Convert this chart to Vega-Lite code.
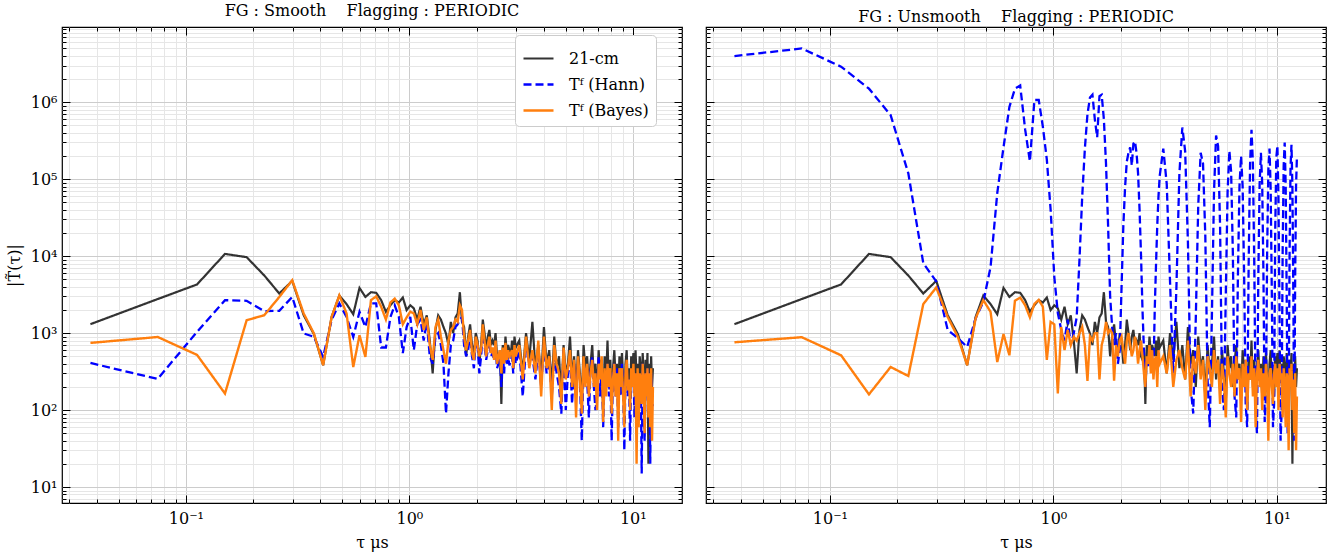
{
"$schema": "https://vega.github.io/schema/vega-lite/v6.json",
"background": "white",
"padding": {"left": 5, "right": 5, "top": 2, "bottom": 5},
"datasets": {"tab": [
{"t":0.0374,"a":1306,"b":409,"c":746,"d":3980000,"e":760},
{"t":0.0748,"a":2770,"b":254,"c":890,"d":5000000,"e":885},
{"t":0.1122,"a":4290,"b":1040,"c":521,"d":2900000,"e":515},
{"t":0.1496,"a":10700,"b":2680,"c":164,"d":1500000,"e":160},
{"t":0.187,"a":9700,"b":2630,"c":1470,"d":680000,"e":363},
{"t":0.2244,"a":5600,"b":1930,"c":1710,"d":119000,"e":277},
{"t":0.2618,"a":3270,"b":1950,"c":2950,"d":8100,"e":2380},
{"t":0.2992,"a":4770,"b":2950,"c":4870,"d":4700,"e":3920},
{"t":0.3366,"a":1710,"b":990,"c":1800,"d":1100,"e":1620},
{"t":0.374,"a":968,"b":895,"c":990,"d":860,"e":890},
{"t":0.4114,"a":383,"b":490,"c":383,"d":660,"e":383},
{"t":0.4488,"a":1620,"b":1480,"c":1620,"d":1550,"e":1550},
{"t":0.4862,"a":3080,"b":2430,"c":3100,"d":2560,"e":2680},
{"t":0.5236,"a":2380,"b":1620,"c":1800,"d":7200,"e":1890},
{"t":0.561,"a":1760,"b":895,"c":363,"d":66000,"e":420},
{"t":0.5984,"a":3870,"b":1890,"c":935,"d":260000,"e":970},
{"t":0.6358,"a":2950,"b":1200,"c":490,"d":870000,"e":515},
{"t":0.6732,"a":3400,"b":2430,"c":2680,"d":1500000,"e":2630},
{"t":0.7106,"a":3340,"b":2430,"c":3000,"d":1650000,"e":2900},
{"t":0.748,"a":2680,"b":650,"c":2200,"d":440000,"e":2300},
{"t":0.7854,"a":1890,"b":650,"c":1500,"d":170000,"e":1600},
{"t":0.8228,"a":2300,"b":1620,"c":2500,"d":1070000,"e":2400},
{"t":0.8602,"a":2680,"b":2300,"c":2800,"d":1070000,"e":2700},
{"t":0.8976,"a":2500,"b":1620,"c":2300,"d":480000,"e":2200},
{"t":0.935,"a":2900,"b":550,"c":1300,"d":180000,"e":450},
{"t":0.9724,"a":1990,"b":1200,"c":1600,"d":40000,"e":1400},
{"t":1.0098,"a":2300,"b":1620,"c":1900,"d":5400,"e":1300},
{"t":1.0472,"a":2100,"b":600,"c":1800,"d":1820,"e":165},
{"t":1.0846,"a":1500,"b":1300,"c":1300,"d":1100,"e":1200},
{"t":1.122,"a":2200,"b":1500,"c":2000,"d":800,"e":600},
{"t":1.1594,"a":1300,"b":800,"c":1100,"d":1500,"e":1100},
{"t":1.1968,"a":1700,"b":1400,"c":1600,"d":700,"e":700},
{"t":1.2342,"a":800,"b":500,"c":700,"d":1000,"e":900},
{"t":1.2716,"a":300,"b":400,"c":450,"d":1600,"e":800},
{"t":1.309,"a":1100,"b":900,"c":1200,"d":9000,"e":1000},
{"t":1.3464,"a":1700,"b":1000,"c":1500,"d":60000,"e":1200},
{"t":1.3838,"a":1500,"b":700,"c":900,"d":250000,"e":700},
{"t":1.4212,"a":1200,"b":400,"c":600,"d":700000,"e":240},
{"t":1.4586,"a":990,"b":90,"c":400,"d":1150000,"e":900},
{"t":1.496,"a":700,"b":300,"c":800,"d":1250000,"e":800},
{"t":1.5334,"a":1400,"b":700,"c":1100,"d":600000,"e":1000},
{"t":1.5708,"a":1000,"b":800,"c":1200,"d":350000,"e":1000},
{"t":1.6082,"a":1600,"b":1200,"c":1500,"d":1200000,"e":250},
{"t":1.6456,"a":1800,"b":1300,"c":1400,"d":1250000,"e":700},
{"t":1.683,"a":3400,"b":1500,"c":2300,"d":600000,"e":900},
{"t":1.7204,"a":1400,"b":1600,"c":2000,"d":160000,"e":1400},
{"t":1.7578,"a":1200,"b":700,"c":900,"d":25000,"e":1000},
{"t":1.7952,"a":500,"b":500,"c":600,"d":3000,"e":1100},
{"t":1.8326,"a":900,"b":600,"c":800,"d":1200,"e":1000},
{"t":1.87,"a":1300,"b":1000,"c":1100,"d":700,"e":240},
{"t":1.9074,"a":700,"b":500,"c":550,"d":1000,"e":700},
{"t":1.9448,"a":550,"b":350,"c":450,"d":400,"e":500},
{"t":1.9822,"a":1000,"b":800,"c":900,"d":600,"e":800},
{"t":2.0196,"a":800,"b":700,"c":700,"d":4000,"e":900},
{"t":2.057,"a":400,"b":300,"c":500,"d":25000,"e":600},
{"t":2.0944,"a":700,"b":500,"c":600,"d":80000,"e":400},
{"t":2.1318,"a":1500,"b":1000,"c":1300,"d":170000,"e":800},
{"t":2.1692,"a":1000,"b":700,"c":800,"d":220000,"e":1000},
{"t":2.2066,"a":600,"b":450,"c":500,"d":260000,"e":700},
{"t":2.244,"a":900,"b":600,"c":700,"d":150000,"e":500},
{"t":2.2814,"a":1100,"b":800,"c":900,"d":290000,"e":600},
{"t":2.3188,"a":700,"b":500,"c":550,"d":310000,"e":900},
{"t":2.3562,"a":800,"b":550,"c":650,"d":220000,"e":700},
{"t":2.3936,"a":700,"b":450,"c":450,"d":120000,"e":400},
{"t":2.431,"a":1000,"b":700,"c":800,"d":40000,"e":600},
{"t":2.4684,"a":500,"b":350,"c":400,"d":10000,"e":800},
{"t":2.5058,"a":450,"b":400,"c":500,"d":2000,"e":500},
{"t":2.5432,"a":600,"b":500,"c":600,"d":600,"e":300},
{"t":2.5806,"a":120,"b":200,"c":300,"d":200,"e":200},
{"t":2.618,"a":700,"b":550,"c":650,"d":500,"e":500},
{"t":2.6554,"a":450,"b":300,"c":400,"d":350,"e":400},
{"t":2.6928,"a":900,"b":700,"c":750,"d":600,"e":700},
{"t":2.7302,"a":550,"b":400,"c":450,"d":400,"e":300},
{"t":2.7676,"a":700,"b":500,"c":600,"d":500,"e":600},
{"t":2.805,"a":600,"b":380,"c":500,"d":300,"e":250},
{"t":2.8424,"a":500,"b":450,"c":550,"d":2000,"e":450},
{"t":2.8798,"a":800,"b":500,"c":600,"d":7600,"e":500},
{"t":2.9172,"a":450,"b":300,"c":350,"d":25000,"e":200},
{"t":2.9546,"a":900,"b":600,"c":700,"d":60000,"e":600},
{"t":2.992,"a":650,"b":400,"c":500,"d":110000,"e":400},
{"t":3.1042,"a":800,"b":600,"c":700,"d":250000,"e":500},
{"t":3.2164,"a":300,"b":150,"c":250,"d":87000,"e":300},
{"t":3.3286,"a":1000,"b":700,"c":900,"d":4600,"e":700},
{"t":3.4408,"a":450,"b":400,"c":350,"d":300,"e":200},
{"t":3.553,"a":1400,"b":500,"c":600,"d":3800,"e":450},
{"t":3.6652,"a":350,"b":250,"c":300,"d":120000,"e":600},
{"t":3.7774,"a":700,"b":600,"c":800,"d":470000,"e":350},
{"t":3.8896,"a":250,"b":200,"c":150,"d":230000,"e":250},
{"t":4.0018,"a":1200,"b":700,"c":900,"d":15000,"e":800},
{"t":4.114,"a":400,"b":300,"c":350,"d":200,"e":150},
{"t":4.2262,"a":600,"b":450,"c":500,"d":90,"e":500},
{"t":4.3384,"a":200,"b":150,"c":100,"d":1500,"e":300},
{"t":4.4506,"a":900,"b":500,"c":700,"d":46000,"e":700},
{"t":4.5628,"a":350,"b":300,"c":400,"d":220000,"e":250},
{"t":4.675,"a":500,"b":200,"c":300,"d":160000,"e":450},
{"t":4.7872,"a":150,"b":90,"c":120,"d":18000,"e":100},
{"t":4.8994,"a":700,"b":600,"c":650,"d":250,"e":500},
{"t":5.0116,"a":300,"b":100,"c":250,"d":60,"e":350},
{"t":5.1238,"a":400,"b":300,"c":350,"d":1700,"e":200},
{"t":5.236,"a":900,"b":500,"c":600,"d":69000,"e":600},
{"t":5.3482,"a":250,"b":120,"c":200,"d":370000,"e":300},
{"t":5.4604,"a":500,"b":400,"c":450,"d":270000,"e":450},
{"t":5.5726,"a":180,"b":200,"c":80,"d":25000,"e":120},
{"t":5.6848,"a":600,"b":350,"c":500,"d":200,"e":400},
{"t":5.797,"a":300,"b":250,"c":250,"d":100,"e":250},
{"t":5.9092,"a":120,"b":40,"c":90,"d":3000,"e":80},
{"t":6.0214,"a":700,"b":400,"c":500,"d":68000,"e":500},
{"t":6.1336,"a":350,"b":300,"c":200,"d":235000,"e":300},
{"t":6.2458,"a":500,"b":250,"c":400,"d":125000,"e":200},
{"t":6.358,"a":200,"b":80,"c":150,"d":10700,"e":400},
{"t":6.4702,"a":400,"b":350,"c":300,"d":150,"e":150},
{"t":6.5824,"a":700,"b":500,"c":450,"d":80,"e":500},
{"t":6.6946,"a":250,"b":200,"c":200,"d":5200,"e":250},
{"t":6.8068,"a":400,"b":100,"c":300,"d":81000,"e":350},
{"t":6.919,"a":150,"b":150,"c":100,"d":200000,"e":70},
{"t":7.0312,"a":600,"b":500,"c":400,"d":81000,"e":400},
{"t":7.1434,"a":300,"b":150,"c":250,"d":5200,"e":200},
{"t":7.2556,"a":450,"b":400,"c":500,"d":120,"e":450},
{"t":7.3678,"a":100,"b":60,"c":70,"d":60,"e":100},
{"t":7.48,"a":500,"b":300,"c":350,"d":7400,"e":300},
{"t":7.5922,"a":250,"b":200,"c":150,"d":160000,"e":250},
{"t":7.7044,"a":800,"b":400,"c":400,"d":440000,"e":500},
{"t":7.8166,"a":200,"b":150,"c":200,"d":160000,"e":150},
{"t":7.9288,"a":450,"b":300,"c":350,"d":7400,"e":350},
{"t":8.041,"a":120,"b":40,"c":90,"d":100,"e":60},
{"t":8.1532,"a":350,"b":300,"c":250,"d":50,"e":300},
{"t":8.2654,"a":600,"b":400,"c":400,"d":5500,"e":450},
{"t":8.3776,"a":250,"b":150,"c":150,"d":87000,"e":200},
{"t":8.4898,"a":400,"b":350,"c":300,"d":220000,"e":350},
{"t":8.602,"a":150,"b":60,"c":40,"d":87000,"e":100},
{"t":8.7142,"a":500,"b":300,"c":350,"d":5500,"e":300},
{"t":8.8264,"a":200,"b":150,"c":200,"d":70,"e":150},
{"t":8.9386,"a":550,"b":400,"c":350,"d":150,"e":400},
{"t":9.0508,"a":250,"b":200,"c":150,"d":11000,"e":250},
{"t":9.163,"a":100,"b":30,"c":60,"d":130000,"e":40},
{"t":9.2752,"a":400,"b":300,"c":300,"d":250000,"e":300},
{"t":9.3874,"a":600,"b":350,"c":450,"d":73000,"e":350},
{"t":9.4996,"a":200,"b":150,"c":180,"d":3100,"e":200},
{"t":9.6118,"a":350,"b":250,"c":250,"d":60,"e":120},
{"t":9.724,"a":150,"b":40,"c":100,"d":120,"e":300},
{"t":9.8362,"a":500,"b":300,"c":350,"d":21000,"e":400},
{"t":9.9484,"a":300,"b":250,"c":200,"d":190000,"e":200},
{"t":10.0606,"a":550,"b":350,"c":400,"d":270000,"e":350},
{"t":10.1728,"a":200,"b":80,"c":150,"d":55000,"e":100},
{"t":10.285,"a":600,"b":300,"c":300,"d":1600,"e":400},
{"t":10.3972,"a":250,"b":200,"c":20,"d":40,"e":250},
{"t":10.5094,"a":400,"b":300,"c":350,"d":100,"e":300},
{"t":10.6216,"a":150,"b":100,"c":60,"d":12000,"e":80},
{"t":10.7338,"a":500,"b":250,"c":300,"d":150000,"e":350},
{"t":10.846,"a":350,"b":300,"c":250,"d":300000,"e":200},
{"t":10.9582,"a":200,"b":15,"c":120,"d":81000,"e":60},
{"t":11.0704,"a":550,"b":400,"c":400,"d":3200,"e":300},
{"t":11.1826,"a":300,"b":200,"c":200,"d":50,"e":250},
{"t":11.2948,"a":60,"b":40,"c":50,"d":90,"e":30},
{"t":11.407,"a":450,"b":300,"c":300,"d":11500,"e":350},
{"t":11.5192,"a":250,"b":200,"c":150,"d":145000,"e":200},
{"t":11.6314,"a":550,"b":350,"c":350,"d":280000,"e":400},
{"t":11.7436,"a":20,"b":100,"c":80,"d":78000,"e":100},
{"t":11.8558,"a":400,"b":300,"c":300,"d":3200,"e":250},
{"t":11.968,"a":150,"b":20,"c":60,"d":40,"e":50},
{"t":12.0802,"a":500,"b":300,"c":350,"d":5200,"e":300},
{"t":12.1924,"a":200,"b":100,"c":40,"d":81000,"e":30},
{"t":12.3046,"a":350,"b":120,"c":200,"d":200000,"e":150}
]},
"config": {
  "font": "DejaVu Serif",
  "view": {"stroke": "#000000", "strokeWidth": 1.2},
  "title": {"font": "DejaVu Serif", "fontSize": 16, "fontWeight": "normal", "color": "#000000", "offset": 2},
  "axis": {"labelFont": "DejaVu Serif", "titleFont": "DejaVu Serif", "labelFontSize": 16, "titleFontSize": 16, "titleFontWeight": "normal", "labelColor": "#000000", "titleColor": "#000000", "domain": false, "tickColor": "#000000", "tickWidth": 1, "labelOverlap": false, "labelBound": false, "labelFlush": false}
},
"spacing": 20,
"resolve": {"scale": {"color": "independent", "strokeDash": "independent", "strokeWidth": "independent"}},
"hconcat": [
{
  "width": 620, "height": 476,
  "title": {"text": "FG : Smooth\u00a0\u00a0\u00a0\u00a0Flagging : PERIODIC"},
  "data": {"name": "tab"},
  "layer": [
    {
      "transform": [{"fold": ["a", "b", "c"], "as": ["s", "v"]}],
      "mark": {"type": "line", "clip": true, "strokeCap": "butt"},
      "encoding": {
        "x": {"field": "t", "type": "quantitative", "scale": {"type": "log", "domain": [0.0279, 16.6], "nice": false},
          "axis": {"orient": "bottom", "title": "τ μs", "values": [0.03,0.04,0.05,0.06,0.07,0.08,0.09,0.1,0.2,0.3,0.4,0.5,0.6,0.7,0.8,0.9,1,2,3,4,5,6,7,8,9,10],
            "labelExpr": "datum.value == 0.1 ? '10⁻¹' : datum.value == 1 ? '10⁰' : datum.value == 10 ? '10¹' : ''",
            "tickSize": {"condition": {"test": "datum.value == 0.1 || datum.value == 1 || datum.value == 10", "value": -8}, "value": -4},
            "grid": true, "gridColor": {"condition": {"test": "datum.value == 0.1 || datum.value == 1 || datum.value == 10", "value": "#cccccc"}, "value": "#e6e6e6"},
            "labelPadding": 15, "titlePadding": 4}},
        "y": {"field": "v", "type": "quantitative", "scale": {"type": "log", "domain": [6.2, 9500000], "nice": false},
          "axis": {"orient": "left", "title": "|T̃(τ)|", "values": [7,8,9,10,20,30,40,50,60,70,80,90,100,200,300,400,500,600,700,800,900,1000,2000,3000,4000,5000,6000,7000,8000,9000,10000,20000,30000,40000,50000,60000,70000,80000,90000,100000,200000,300000,400000,500000,600000,700000,800000,900000,1000000,2000000,3000000,4000000,5000000,6000000,7000000,8000000,9000000],
            "labelExpr": "datum.value == 10 ? '10¹' : datum.value == 100 ? '10²' : datum.value == 1000 ? '10³' : datum.value == 10000 ? '10⁴' : datum.value == 100000 ? '10⁵' : datum.value == 1000000 ? '10⁶' : ''",
            "tickSize": {"condition": {"test": "datum.value == 10 || datum.value == 100 || datum.value == 1000 || datum.value == 10000 || datum.value == 100000 || datum.value == 1000000", "value": -8}, "value": -4},
            "grid": true, "gridColor": {"condition": {"test": "datum.value == 10 || datum.value == 100 || datum.value == 1000 || datum.value == 10000 || datum.value == 100000 || datum.value == 1000000", "value": "#cccccc"}, "value": "#e6e6e6"},
            "labelPadding": 13, "titlePadding": 8}},
        "color": {"field": "s", "type": "nominal", "scale": {"domain": ["a", "b", "c"], "range": ["#333333", "#0000ff", "#ff7f0e"]},
          "legend": {"orient": "none", "legendX": 453, "legendY": 8, "title": null, "labelExpr": "datum.value == 'a' ? '21-cm' : datum.value == 'b' ? 'Tᶠ (Hann)' : 'Tᶠ (Bayes)'", "symbolType": "stroke", "symbolSize": 900, "symbolStrokeWidth": 2.5, "labelFontSize": 16, "labelFont": "DejaVu Serif", "labelColor": "#000000", "fillColor": "#ffffff", "strokeColor": "#cccccc", "padding": 7, "rowPadding": 1, "cornerRadius": 4, "labelOffset": 14}},
        "strokeDash": {"field": "s", "type": "nominal", "scale": {"domain": ["a", "b", "c"], "range": [[1, 0], [8, 4], [1, 0]]},
          "legend": {"orient": "none", "legendX": 453, "legendY": 8, "title": null, "labelExpr": "datum.value == 'a' ? '21-cm' : datum.value == 'b' ? 'Tᶠ (Hann)' : 'Tᶠ (Bayes)'", "symbolType": "stroke", "symbolSize": 900, "symbolStrokeWidth": 2.5, "labelFontSize": 16, "labelFont": "DejaVu Serif", "labelColor": "#000000", "fillColor": "#ffffff", "strokeColor": "#cccccc", "padding": 7, "rowPadding": 1, "cornerRadius": 4, "labelOffset": 14}},
        "strokeWidth": {"field": "s", "type": "nominal", "scale": {"domain": ["a", "b", "c"], "range": [2.2, 2.4, 1.6]}, "legend": null}
      }
    },
    {
      "mark": {"type": "point", "opacity": 0},
      "encoding": {
        "x": {"field": "t", "type": "quantitative", "scale": {"type": "log", "domain": [0.0279, 16.6], "nice": false},
          "axis": {"orient": "top", "title": null, "labels": false, "grid": false, "values": [0.03,0.04,0.05,0.06,0.07,0.08,0.09,0.1,0.2,0.3,0.4,0.5,0.6,0.7,0.8,0.9,1,2,3,4,5,6,7,8,9,10],
            "tickSize": {"condition": {"test": "datum.value == 0.1 || datum.value == 1 || datum.value == 10", "value": -8}, "value": -4}}},
        "y": {"field": "a", "type": "quantitative", "scale": {"type": "log", "domain": [6.2, 9500000], "nice": false},
          "axis": {"orient": "right", "title": null, "labels": false, "grid": false, "values": [7,8,9,10,20,30,40,50,60,70,80,90,100,200,300,400,500,600,700,800,900,1000,2000,3000,4000,5000,6000,7000,8000,9000,10000,20000,30000,40000,50000,60000,70000,80000,90000,100000,200000,300000,400000,500000,600000,700000,800000,900000,1000000,2000000,3000000,4000000,5000000,6000000,7000000,8000000,9000000],
            "tickSize": {"condition": {"test": "datum.value == 10 || datum.value == 100 || datum.value == 1000 || datum.value == 10000 || datum.value == 100000 || datum.value == 1000000", "value": -8}, "value": -4}}}
      }
    }
  ],
  "resolve": {"axis": {"x": "independent", "y": "independent"}}
},
{
  "width": 620, "height": 476,
  "title": {"text": "FG : Unsmooth\u00a0\u00a0\u00a0\u00a0Flagging : PERIODIC"},
  "data": {"name": "tab"},
  "layer": [
    {
      "transform": [{"fold": ["a", "d", "e"], "as": ["s", "v"]}],
      "mark": {"type": "line", "clip": true, "strokeCap": "butt"},
      "encoding": {
        "x": {"field": "t", "type": "quantitative", "scale": {"type": "log", "domain": [0.0279, 16.6], "nice": false},
          "axis": {"orient": "bottom", "title": "τ μs", "values": [0.03,0.04,0.05,0.06,0.07,0.08,0.09,0.1,0.2,0.3,0.4,0.5,0.6,0.7,0.8,0.9,1,2,3,4,5,6,7,8,9,10],
            "labelExpr": "datum.value == 0.1 ? '10⁻¹' : datum.value == 1 ? '10⁰' : datum.value == 10 ? '10¹' : ''",
            "tickSize": {"condition": {"test": "datum.value == 0.1 || datum.value == 1 || datum.value == 10", "value": -8}, "value": -4},
            "grid": true, "gridColor": {"condition": {"test": "datum.value == 0.1 || datum.value == 1 || datum.value == 10", "value": "#cccccc"}, "value": "#e6e6e6"},
            "labelPadding": 15, "titlePadding": 4}},
        "y": {"field": "v", "type": "quantitative", "scale": {"type": "log", "domain": [6.2, 9500000], "nice": false},
          "axis": {"orient": "left", "title": null, "labels": false, "values": [7,8,9,10,20,30,40,50,60,70,80,90,100,200,300,400,500,600,700,800,900,1000,2000,3000,4000,5000,6000,7000,8000,9000,10000,20000,30000,40000,50000,60000,70000,80000,90000,100000,200000,300000,400000,500000,600000,700000,800000,900000,1000000,2000000,3000000,4000000,5000000,6000000,7000000,8000000,9000000],
            "tickSize": {"condition": {"test": "datum.value == 10 || datum.value == 100 || datum.value == 1000 || datum.value == 10000 || datum.value == 100000 || datum.value == 1000000", "value": -8}, "value": -4},
            "grid": true, "gridColor": {"condition": {"test": "datum.value == 10 || datum.value == 100 || datum.value == 1000 || datum.value == 10000 || datum.value == 100000 || datum.value == 1000000", "value": "#cccccc"}, "value": "#e6e6e6"}}},
        "color": {"field": "s", "type": "nominal", "scale": {"domain": ["a", "d", "e"], "range": ["#333333", "#0000ff", "#ff7f0e"]}, "legend": null},
        "strokeDash": {"field": "s", "type": "nominal", "scale": {"domain": ["a", "d", "e"], "range": [[1, 0], [8, 4], [1, 0]]}, "legend": null},
        "strokeWidth": {"field": "s", "type": "nominal", "scale": {"domain": ["a", "d", "e"], "range": [2.2, 2.4, 1.6]}, "legend": null}
      }
    },
    {
      "mark": {"type": "point", "opacity": 0},
      "encoding": {
        "x": {"field": "t", "type": "quantitative", "scale": {"type": "log", "domain": [0.0279, 16.6], "nice": false},
          "axis": {"orient": "top", "title": null, "labels": false, "grid": false, "values": [0.03,0.04,0.05,0.06,0.07,0.08,0.09,0.1,0.2,0.3,0.4,0.5,0.6,0.7,0.8,0.9,1,2,3,4,5,6,7,8,9,10],
            "tickSize": {"condition": {"test": "datum.value == 0.1 || datum.value == 1 || datum.value == 10", "value": -8}, "value": -4}}},
        "y": {"field": "a", "type": "quantitative", "scale": {"type": "log", "domain": [6.2, 9500000], "nice": false},
          "axis": {"orient": "right", "title": null, "labels": false, "grid": false, "values": [7,8,9,10,20,30,40,50,60,70,80,90,100,200,300,400,500,600,700,800,900,1000,2000,3000,4000,5000,6000,7000,8000,9000,10000,20000,30000,40000,50000,60000,70000,80000,90000,100000,200000,300000,400000,500000,600000,700000,800000,900000,1000000,2000000,3000000,4000000,5000000,6000000,7000000,8000000,9000000],
            "tickSize": {"condition": {"test": "datum.value == 10 || datum.value == 100 || datum.value == 1000 || datum.value == 10000 || datum.value == 100000 || datum.value == 1000000", "value": -8}, "value": -4}}}
      }
    }
  ],
  "resolve": {"axis": {"x": "independent", "y": "independent"}}
}
]
}
